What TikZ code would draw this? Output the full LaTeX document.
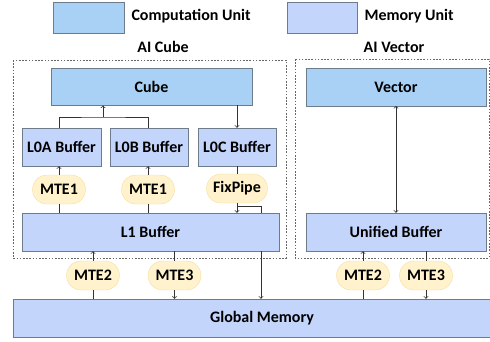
\documentclass[tikz,border=0pt]{standalone}
\usepackage{fontspec}
\setmainfont{Carlito}
\definecolor{compfill}{HTML}{A9D1F5}
\definecolor{memfill}{HTML}{C4D5FC}
\definecolor{boxline}{HTML}{6E7B8B}
\definecolor{pillfill}{HTML}{FFF2CC}
\definecolor{pillline}{HTML}{F7DF9A}
\tikzset{
  comp/.style={draw=boxline,fill=compfill,inner sep=0pt,minimum height=37.5},
  mem/.style={draw=boxline,fill=memfill,inner sep=0pt,minimum height=38},
  pill/.style={draw=pillline,fill=pillfill,rounded corners=14.5,inner sep=0pt,minimum width=53,minimum height=29},
  link/.style={black!80,line width=0.8pt},
  group/.style={draw=black!60,dash pattern=on 1.6pt off 1.6pt,line width=0.7pt},
}
\begin{document}
\begin{tikzpicture}[x=1pt,y=-1pt,>=to,font=\fontsize{16}{19}\selectfont\bfseries]
  \useasboundingbox (0,0) rectangle (490,341);
  \clip (0,0) rectangle (490,341);
  % legend
  \node[comp,minimum width=71,minimum height=31] (legc) at (88.5,18) {};
  \node[anchor=west] (legctext) at (128,16) {Computation Unit};
  \node[mem,minimum width=70,minimum height=31] (legm) at (322,17.5) {};
  \node[anchor=west] (legmtext) at (361,16) {Memory Unit};
  \node (cubetitle) at (163,47) {AI Cube};
  \node (vectitle) at (394,47) {AI Vector};
  \draw[group] (13,60) rectangle (286,258);
  \draw[group] (295,59) rectangle (489,258);
  % AI Cube
  \node[comp,minimum width=201] (cube) at (151.5,86.5) {Cube};
  \node[mem,minimum width=79] (l0a) at (61.5,147) {L0A Buffer};
  \node[mem,minimum width=78] (l0b) at (149,147) {L0B Buffer};
  \node[mem,minimum width=78] (l0c) at (237,147) {L0C Buffer};
  \node[pill] (mte1a) at (59,189.5) {MTE1};
  \node[pill] (mte1b) at (148,189.5) {MTE1};
  \node[pill,minimum width=61] (fix) at (237,188.5) {FixPipe};
  \node[mem,minimum width=257] (l1) at (150.5,232) {L1 Buffer};
  \node[mem,minimum width=498] (gm) at (262,318) {Global Memory};
  \node[pill] (mte2a) at (93,275.5) {MTE2};
  \node[pill] (mte3a) at (174.5,275.5) {MTE3};
  % AI Vector
  \node[comp,minimum width=180] (vec) at (396,87) {Vector};
  \node[mem,minimum width=180] (ub) at (396,232) {Unified Buffer};
  \node[pill] (mte2b) at (363,275.5) {MTE2};
  \node[pill] (mte3b) at (426,275.5) {MTE3};
  \coordinate (join) at (103,117);
  \coordinate (tap) at (261,206);
  % connectors
  \draw[link] (l0a.north -| mte1a) |- (join) -| (l0b.north -| mte1b);
  \draw[link,->] (join) -- (cube.south -| join);
  \draw[link,->] (cube.south -| l0c) -- (l0c.north);
  \draw[link,->] (mte1a.north) -- (l0a.south -| mte1a);
  \draw[link,->] (mte1b.north) -- (l0b.south -| mte1b);
  \draw[link] (l1.north -| mte1a) -- (mte1a.south);
  \draw[link] (l1.north -| mte1b) -- (mte1b.south);
  \draw[link] (l0c.south) -- (fix.north);
  \draw[link,->] (fix.south) -- (l1.north -| fix);
  \draw[link] (fix.south) |- (tap) -- (tap |- l1.north);
  \draw[link,->] (tap |- l1.south) -- (tap |- gm.north);
  \draw[link] (gm.north -| mte2a) -- (mte2a.south);
  \draw[link,->] (mte2a.north) -- (l1.south -| mte2a);
  \draw[link] (l1.south -| mte3a) -- (mte3a.north);
  \draw[link,->] (mte3a.south) -- (gm.north -| mte3a);
  \draw[link,<->] (vec.south) -- (ub.north);
  \draw[link] (gm.north -| mte2b) -- (mte2b.south);
  \draw[link,->] (mte2b.north) -- (ub.south -| mte2b);
  \draw[link] (ub.south -| mte3b) -- (mte3b.north);
  \draw[link,->] (mte3b.south) -- (gm.north -| mte3b);
\end{tikzpicture}
\end{document}
